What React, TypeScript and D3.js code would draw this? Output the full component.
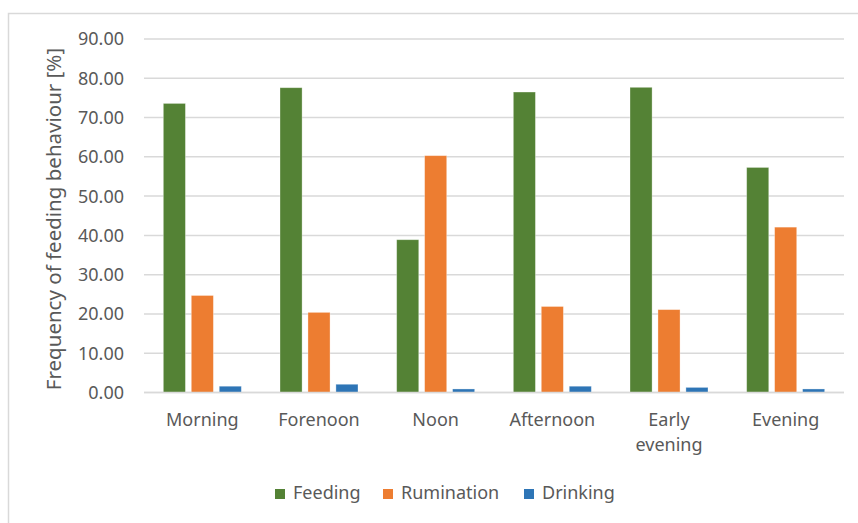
import React from "react";
import * as d3 from "d3";

const categories = ["Morning", "Forenoon", "Noon", "Afternoon", "Early evening", "Evening"];
const categoryLines = [["Morning"], ["Forenoon"], ["Noon"], ["Afternoon"], ["Early", "evening"], ["Evening"]];
const seriesNames = ["Feeding", "Rumination", "Drinking"];
const feeding = [73.6, 77.6, 38.9, 76.5, 77.7, 57.3];
const rumination = [24.7, 20.4, 60.3, 21.9, 21.1, 42.1];
const drinking = [1.6, 2.1, 0.9, 1.6, 1.3, 0.9];
const yTicks = [0, 10, 20, 30, 40, 50, 60, 70, 80, 90];
const colors = ["#548235", "#ED7D31", "#2E75B6"];

const W = 858;
const H = 523;
const FONT = "'Noto Sans', 'Open Sans', sans-serif";
const TEXT = "#595959";

export default function App() {
  const series = [feeding, rumination, drinking];
  const x = d3.scaleBand().domain(categories).range([144, 844]).paddingInner(0).paddingOuter(0);
  const y = d3.scaleLinear().domain([0, 90]).range([392.5, 39]);
  const inner = d3.scaleBand().domain(seriesNames).range([-39, 39]).paddingInner(0.21).paddingOuter(0);

  return (
    <svg width={W} height={H} style={{ position: "absolute", left: 0, top: 0, background: "#fff" }}>
      <rect x={0} y={0} width={W} height={H} fill="#fff" />
      <rect x={8.5} y={13.5} width={900} height={600} fill="none" stroke="#D9D9D9" strokeWidth={1.5} />
      {yTicks.map((t) => (
        <g key={t}>
          <line x1={144} x2={844} y1={y(t)} y2={y(t)} stroke="#D9D9D9" strokeWidth={1.5} />
          <text x={124} y={y(t)} dy="0.36em" textAnchor="end" fontFamily={FONT} fontSize={18} fill={TEXT}>
            {t.toFixed(2)}
          </text>
        </g>
      ))}
      {categories.map((c, i) => (
        <g key={c}>
          {series.map((s, j) => {
            const cx = (x(c) as number) + x.bandwidth() / 2;
            const bx = cx + (inner(seriesNames[j]) as number);
            return (
              <rect
                key={j}
                x={bx}
                y={y(s[i])}
                width={inner.bandwidth()}
                height={y(0) - y(s[i])}
                fill={colors[j]}
                stroke="#fff"
                strokeOpacity={0.4}
                strokeWidth={0.8}
              />
            );
          })}
        </g>
      ))}
      <line x1={144} x2={844} y1={y(0)} y2={y(0)} stroke="#D9D9D9" strokeWidth={1.5} />
      {categories.map((c, i) => (
        <text key={c} textAnchor="middle" fontFamily={FONT} fontSize={18} fill={TEXT}>
          {categoryLines[i].map((ln, k) => (
            <tspan key={k} x={(x(c) as number) + x.bandwidth() / 2} y={426 + k * 25}>
              {ln}
            </tspan>
          ))}
        </text>
      ))}
      <text
        transform={`translate(61, ${(390 + 48) / 2}) rotate(-90)`}
        textAnchor="middle"
        fontFamily={FONT}
        fontSize={20.5}
        fill={TEXT}
      >
        Frequency of feeding behaviour [%]
      </text>
      {seriesNames.map((n, j) => {
        const lx = [275, 383, 524][j];
        return (
          <g key={n}>
            <rect x={lx} y={489} width={10} height={10} fill={colors[j]} />
            <text x={lx + 18} y={499} fontFamily={FONT} fontSize={18} fill={TEXT}>
              {n}
            </text>
          </g>
        );
      })}
    </svg>
  );
}
